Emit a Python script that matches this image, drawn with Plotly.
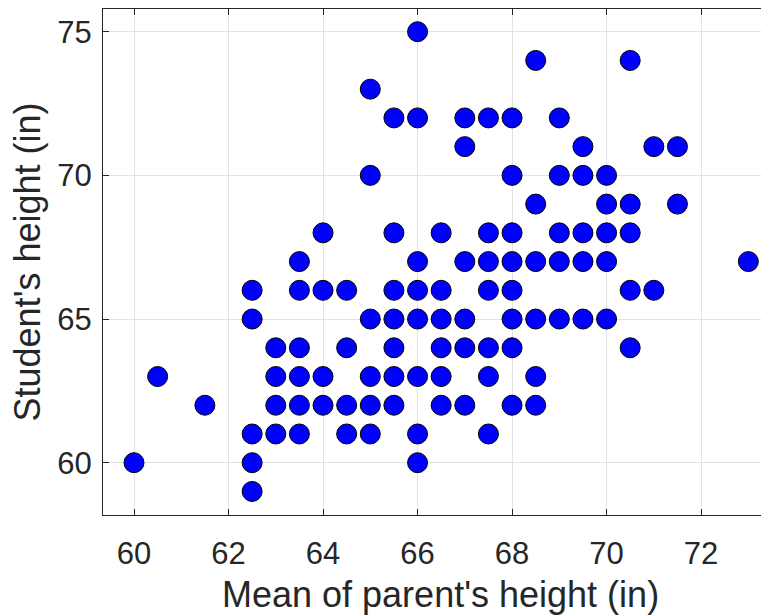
import plotly.graph_objects as go

# Data (mean parent height, student height)
rows = {
    75: [66],
    74: [68.5, 70.5],
    73: [65],
    72: [65.5, 66, 67, 67.5, 68, 69],
    71: [67, 69.5, 71, 71.5],
    70: [65, 68, 69, 69.5, 70],
    69: [68.5, 70, 70.5, 71.5],
    68: [64, 65.5, 66.5, 67.5, 68, 69, 69.5, 70, 70.5],
    67: [63.5, 66, 67, 67.5, 68, 68.5, 69, 69.5, 70, 73],
    66: [62.5, 63.5, 64, 64.5, 65.5, 66, 66.5, 67.5, 68, 70.5, 71],
    65: [62.5, 65, 65.5, 66, 66.5, 67, 68, 68.5, 69, 69.5, 70],
    64: [63, 63.5, 64.5, 65.5, 66.5, 67, 67.5, 68, 70.5],
    63: [60.5, 63, 63.5, 64, 65, 65.5, 66, 66.5, 67.5, 68.5],
    62: [61.5, 63, 63.5, 64, 64.5, 65, 65.5, 66.5, 67, 68, 68.5],
    61: [62.5, 63, 63.5, 64.5, 65, 66, 67.5],
    60: [60, 62.5, 66],
    59: [62.5],
}
parent_height = [x for yv, xs in rows.items() for x in xs]
student_height = [yv for yv, xs in rows.items() for x in xs]

x_ticks = [60, 62, 64, 66, 68, 70, 72]
y_ticks = [60, 65, 70, 75]
x_title = "Mean of parent's height (in)"
y_title = "Student's height (in)"

axis_color = "#262626"
font_family = "Liberation Sans, Arial, Helvetica, sans-serif"
tick_size = 31
title_size = 36

fig = go.Figure(
    go.Scatter(
        x=parent_height,
        y=student_height,
        mode="markers",
        marker=dict(size=20, color="#0000ff", line=dict(color="black", width=1)),
        hoverinfo="skip",
    )
)

# page body has an 8px default margin, so the figure is sized to end at the window edge
fig.update_layout(
    width=761,
    height=608,
    margin=dict(l=95, r=0, t=1, b=101),
    paper_bgcolor="white",
    plot_bgcolor="white",
    showlegend=False,
    font=dict(family=font_family, size=tick_size, color=axis_color),
    annotations=[
        dict(text=x_title, xref="paper", yref="paper", x=0.5075, y=-0.157,
             xanchor="center", yanchor="middle", showarrow=False,
             font=dict(size=title_size, color=axis_color)),
        dict(text=y_title, xref="paper", yref="paper", x=-0.1134, y=0.5,
             xanchor="center", yanchor="middle", showarrow=False, textangle=-90,
             font=dict(size=title_size, color=axis_color)),
    ],
)

common = dict(
    ticks="inside",
    ticklen=6,
    tickcolor=axis_color,
    showline=True,
    linecolor=axis_color,
    linewidth=1,
    showgrid=True,
    gridcolor="#e2e2e2",
    gridwidth=1,
    zeroline=False,
    automargin=False,
    tickfont=dict(size=tick_size, color=axis_color),
)

fig.update_xaxes(
    range=[59.344, 73.437],
    tickvals=x_ticks,
    ticktext=[str(v) for v in x_ticks],
    mirror="ticks",
    ticklabelstandoff=11,
    **common,
)
fig.update_yaxes(
    range=[58.18, 75.79],
    tickvals=y_ticks,
    ticktext=[str(v) for v in y_ticks],
    mirror=False,
    ticklabelstandoff=4,
    **common,
)

fig.write_html("out.html")
